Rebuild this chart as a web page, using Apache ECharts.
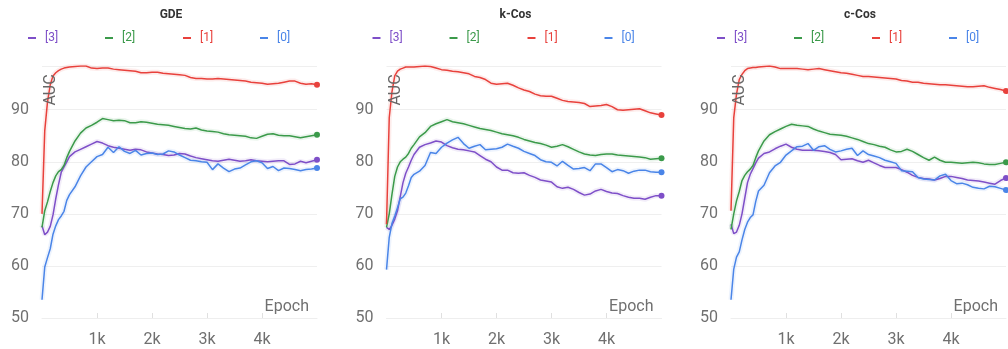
<!DOCTYPE html>
<html>
<head>
<meta charset="utf-8">
<script src="https://cdn.jsdelivr.net/npm/echarts@6/dist/echarts.min.js"></script>
<style>
html,body{margin:0;padding:0;background:#fff;}
#chart{width:1008px;height:349px;}
</style>
</head>
<body>
<div id="chart"></div>
<script>
// ---- data ----
const panelTitles = ['GDE', 'k-Cos', 'c-Cos'];
const seriesNames = ['[3]', '[2]', '[1]', '[0]'];
const xTickLabels = ['1k', '2k', '3k', '4k'];
const epochs = [0, 50, 100, 150, 200, 250, 300, 350, 400, 450, 500,
  600, 700, 800, 900, 1000, 1100, 1200, 1300, 1400, 1500,
  1600, 1700, 1800, 1900, 2000, 2100, 2200, 2300, 2400, 2500,
  2600, 2700, 2800, 2900, 3000, 3100, 3200, 3300, 3400, 3500,
  3600, 3700, 3800, 3900, 4000, 4100, 4200, 4300, 4400, 4500,
  4600, 4700, 4800, 4900, 5000];

// GDE
const gde3 = [67.7, 66.0, 66.5, 67.6, 69.8, 72.9, 75.6, 78.0, 79.0, 80.0, 81.0,
  81.9, 82.4, 82.9, 83.4, 83.9, 83.6, 83.1, 82.8, 82.6, 82.4,
  82.2, 82.4, 82.3, 81.9, 81.7, 81.5, 81.4, 81.2, 81.3, 81.6,
  81.5, 81.1, 80.8, 80.6, 80.4, 80.2, 80.1, 80.3, 80.5, 80.3,
  80.1, 80.2, 80.4, 80.2, 80.1, 80.0, 80.1, 80.2, 80.2, 79.5,
  79.6, 80.1, 79.8, 80.1, 80.4];
const gde2 = [67.4, 70.6, 72.3, 74.3, 76.0, 77.3, 78.1, 78.5, 79.3, 80.8, 82.0,
  84.0, 85.5, 86.5, 87.0, 87.6, 88.3, 88.1, 87.9, 88.0, 87.9,
  87.5, 87.5, 87.7, 87.6, 87.4, 87.2, 87.1, 87.0, 86.8, 86.6,
  86.4, 86.3, 86.5, 86.1, 85.9, 85.8, 85.7, 85.4, 85.2, 85.1,
  85.0, 84.9, 84.6, 84.5, 84.9, 85.3, 85.4, 85.1, 85.0, 85.0,
  84.8, 84.6, 84.8, 85.0, 85.2];
const gde1 = [70.0, 86.0, 91.5, 94.8, 96.5, 97.1, 97.5, 97.8, 98.0, 98.1, 98.2,
  98.3, 98.4, 98.4, 98.0, 97.9, 98.0, 98.0, 97.8, 97.7, 97.6,
  97.5, 97.4, 97.1, 97.1, 97.2, 97.2, 97.0, 96.9, 96.8, 96.7,
  96.6, 96.2, 96.0, 96.0, 95.9, 95.9, 96.0, 95.9, 95.8, 95.7,
  95.6, 95.5, 95.3, 95.2, 95.1, 94.9, 95.0, 95.1, 95.3, 95.5,
  95.5, 95.1, 94.9, 95.0, 94.8];
const gde0 = [53.5, 59.8, 61.6, 63.3, 66.1, 67.7, 68.9, 69.6, 70.5, 72.6, 73.7,
  75.2, 77.3, 79.0, 80.0, 81.0, 81.4, 82.8, 81.8, 82.9, 82.0,
  81.6, 82.2, 81.3, 81.6, 81.7, 81.4, 81.5, 82.1, 81.9, 81.3,
  80.8, 80.3, 80.2, 80.0, 79.9, 78.5, 79.6, 78.8, 78.1, 78.6,
  78.8, 79.4, 80.0, 80.2, 79.8, 78.7, 79.1, 78.3, 78.8, 78.7,
  78.5, 78.3, 78.5, 78.6, 78.8];

// k-Cos
const kcos3 = [67.4, 67.0, 67.8, 69.0, 70.6, 73.3, 76.0, 77.8, 79.0, 80.3, 81.4,
  82.8, 83.3, 83.6, 84.0, 83.8, 83.1, 82.7, 82.4, 82.3, 82.1,
  81.9, 81.2, 80.5, 80.0, 79.0, 78.4, 78.4, 77.9, 77.8, 77.9,
  77.4, 77.0, 76.5, 76.3, 76.1, 75.2, 74.9, 75.1, 74.7, 74.1,
  73.6, 73.8, 74.4, 74.7, 74.3, 74.0, 73.9, 73.5, 73.2, 73.0,
  73.0, 72.8, 73.2, 73.5, 73.5];
const kcos2 = [67.4, 70.0, 73.8, 77.2, 79.0, 80.0, 80.5, 80.9, 81.6, 82.6, 83.3,
  84.8, 85.6, 86.8, 87.3, 87.7, 88.1, 87.7, 87.5, 87.3, 87.0,
  86.7, 86.4, 86.2, 86.0, 85.7, 85.4, 85.2, 85.0, 84.7, 84.3,
  84.0, 83.7, 83.5, 83.2, 82.8, 83.0, 83.3, 82.9, 82.4, 81.9,
  81.5, 81.3, 81.2, 81.4, 81.5, 81.5, 81.3, 81.2, 81.1, 81.0,
  80.9, 80.8, 80.5, 80.6, 80.7];
const kcos1 = [68.0, 88.5, 93.5, 96.5, 97.4, 97.8, 98.0, 98.2, 98.2, 98.2, 98.2,
  98.3, 98.4, 98.3, 98.0, 97.7, 97.6, 97.4, 97.3, 97.1, 96.9,
  96.4, 96.2, 95.8, 95.1, 94.9, 95.0, 95.1, 94.7, 94.2, 93.8,
  93.5, 93.0, 92.7, 92.6, 92.6, 92.2, 91.8, 91.6, 91.5, 91.4,
  91.2, 90.6, 90.7, 90.8, 91.0, 90.6, 90.0, 89.9, 90.0, 90.1,
  90.2, 89.8, 89.4, 89.2, 89.0];
const kcos0 = [59.3, 65.5, 68.2, 69.6, 71.2, 72.9, 73.2, 74.0, 75.4, 77.0, 77.6,
  78.2, 79.3, 81.8, 81.6, 82.8, 83.6, 84.2, 84.7, 83.5, 82.6,
  83.0, 83.3, 82.3, 82.4, 82.5, 82.8, 83.4, 83.0, 82.6, 82.0,
  81.6, 81.2, 80.4, 80.0, 79.9, 79.2, 80.1, 79.3, 78.6, 78.7,
  78.9, 78.3, 79.6, 79.6, 78.9, 78.1, 78.5, 78.3, 77.8, 78.2,
  78.4, 78.4, 78.1, 78.0, 78.0];

// c-Cos
const ccos3 = [68.0, 66.2, 66.5, 67.8, 70.0, 73.0, 76.0, 77.6, 78.7, 79.8, 80.7,
  81.6, 81.9, 82.5, 83.0, 83.4, 82.8, 82.4, 82.2, 82.2, 82.2,
  82.1, 82.0, 81.8, 81.4, 80.4, 80.5, 80.6, 80.2, 79.9, 80.3,
  79.8, 79.3, 78.9, 78.9, 78.9, 78.5, 78.0, 77.4, 77.0, 76.8,
  76.7, 76.5, 76.8, 77.2, 77.2, 77.0, 76.8, 76.5, 76.4, 76.3,
  76.1, 75.9, 75.7, 76.4, 76.9];
const ccos2 = [67.0, 70.0, 72.5, 74.3, 76.4, 77.4, 78.1, 78.6, 79.3, 80.8, 82.1,
  84.0, 85.2, 85.8, 86.3, 86.8, 87.2, 87.0, 86.9, 86.8, 86.3,
  85.9, 85.6, 85.3, 85.2, 85.1, 84.9, 84.6, 84.3, 83.9, 83.5,
  83.3, 83.0, 82.8, 82.3, 81.9, 82.0, 82.4, 82.0, 81.4, 80.8,
  80.3, 80.9, 80.3, 79.9, 79.9, 79.8, 79.7, 79.8, 79.9, 79.8,
  79.6, 79.5, 79.5, 79.7, 79.9];
const ccos1 = [70.6, 88.5, 93.0, 95.8, 96.8, 97.5, 97.9, 98.0, 98.1, 98.1, 98.2,
  98.3, 98.4, 98.2, 97.9, 97.9, 97.9, 97.9, 97.8, 97.7, 97.8,
  97.9, 97.7, 97.5, 97.3, 97.1, 97.0, 96.8, 96.6, 96.4, 96.4,
  96.3, 96.2, 96.1, 96.0, 95.9, 95.6, 95.5, 95.3, 95.3, 95.1,
  95.0, 94.9, 94.8, 94.8, 94.7, 94.6, 94.5, 94.4, 94.4, 94.5,
  94.6, 94.3, 94.1, 93.9, 93.6];
const ccos0 = [53.5, 59.4, 61.7, 62.7, 65.0, 67.0, 68.4, 69.3, 69.8, 72.4, 74.4,
  75.5, 77.9, 79.2, 79.9, 81.3, 82.1, 82.9, 83.0, 83.5, 82.2,
  82.9, 83.1, 82.4, 81.9, 82.1, 82.4, 82.6, 81.2, 82.1, 81.4,
  81.1, 80.8, 80.3, 80.0, 79.7, 78.3, 78.2, 78.1, 77.0, 76.7,
  76.6, 76.5, 77.3, 77.6, 76.4, 75.8, 75.9, 75.6, 75.1, 74.9,
  74.8, 75.3, 75.2, 74.9, 74.6];

const panelData = [
  [gde3, gde2, gde1, gde0],
  [kcos3, kcos2, kcos1, kcos0],
  [ccos3, ccos2, ccos1, ccos0]
];

// ---- styling ----
const colors = ['#7e4fc8', '#3b9a4a', '#e8413c', '#4a85e8'];
const FONT = 'Roboto, "Liberation Sans", sans-serif';
const PANEL_STEP = 344.5;
const PLOT_LEFT = 42;
const PLOT_W = 275;
const legendOffsets = [28, 105, 183, 260];

const chart = echarts.init(document.getElementById('chart'), null, {renderer: 'canvas'});

const grids = [], xAxes = [], yAxes = [], series = [], legends = [], titles = [], graphics = [];

panelTitles.forEach((t, p) => {
  const left = PLOT_LEFT + PANEL_STEP * p;
  grids.push({left: left, width: PLOT_W, top: 66, bottom: 31, containLabel: false});
  titles.push({
    text: t, left: left + 124, top: 4, textAlign: 'center',
    textStyle: {fontFamily: FONT, fontSize: 12, fontWeight: 'bold', color: '#333'}
  });
  xAxes.push({
    type: 'value', gridIndex: p, min: 0, max: epochs[epochs.length - 1], interval: 1000,
    axisLine: {show: true, lineStyle: {color: '#eeeeee'}},
    axisTick: {show: true, inside: true, length: 5, lineStyle: {color: '#e0e0e0'}},
    splitLine: {show: false},
    axisLabel: {
      showMinLabel: false, showMaxLabel: false, margin: 14,
      color: '#707070', fontSize: 16, fontFamily: FONT,
      formatter: v => { const i = Math.round(v / 1000) - 1; return xTickLabels[i] || ''; }
    }
  });
  yAxes.push({
    type: 'value', gridIndex: p, min: 50, max: 'dataMax', interval: 10,
    axisLine: {show: false}, axisTick: {show: false},
    splitLine: {show: true, lineStyle: {color: '#efefef'}},
    axisLabel: {
      margin: 13, color: '#707070', fontSize: 16, fontFamily: FONT,
      formatter: v => (v % 10 === 0 ? String(v) : '')
    }
  });
  seriesNames.forEach((name, k) => {
    const vals = panelData[p][k];
    const last = vals.length - 1;
    const pts = epochs.map((e, i) => [e, vals[i]]);
    series.push({
      type: 'line', name: name, xAxisIndex: p, yAxisIndex: p,
      data: pts,
      smooth: false, symbol: 'circle', showAllSymbol: true,
      symbolSize: (v, params) => (params.dataIndex === last ? 6 : 0),
      lineStyle: {width: 1.5, color: colors[k]},
      itemStyle: {color: colors[k]},
      animation: false, z: 2 + k
    });
    // faint halo standing in for the un-smoothed run
    series.push({
      type: 'line', name: name + ' raw', xAxisIndex: p, yAxisIndex: p,
      data: pts, symbol: 'none', silent: true,
      lineStyle: {width: 5, color: colors[k], opacity: 0.1},
      itemStyle: {color: colors[k]},
      animation: false, z: 1
    });
    legends.push({
      data: [name], left: left - PLOT_LEFT + legendOffsets[k], top: 32, padding: 0,
      icon: 'rect', itemWidth: 8, itemHeight: 2,
      selectedMode: false,
      textStyle: {color: colors[k], fontSize: 12, fontFamily: FONT, padding: [0, 0, 0, 4]}
    });
  });
  graphics.push({
    type: 'text', x: left + 9, y: 90, rotation: Math.PI / 2,
    style: {text: 'AUC', fill: '#666', font: '16px ' + FONT, textAlign: 'center', textVerticalAlign: 'middle'},
    z: 10
  });
  graphics.push({
    type: 'text', x: left + 267, y: 307,
    style: {text: 'Epoch', fill: '#707070', font: '16px ' + FONT, textAlign: 'right', textVerticalAlign: 'middle'},
    z: 10
  });
});

chart.setOption({
  animation: false,
  backgroundColor: '#fff',
  title: titles,
  legend: legends,
  grid: grids,
  xAxis: xAxes,
  yAxis: yAxes,
  series: series,
  graphic: graphics
});
</script>
</body>
</html>
